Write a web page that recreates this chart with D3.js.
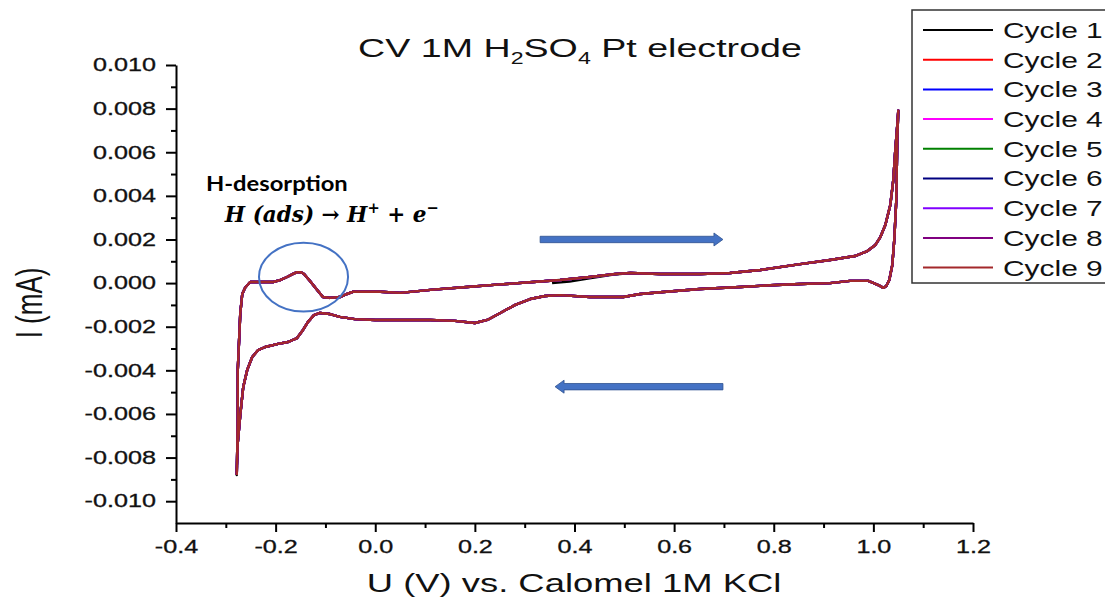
<!DOCTYPE html>
<html><head><meta charset="utf-8">
<script src="https://cdn.jsdelivr.net/npm/d3@7"></script>
<style>body{margin:0;background:#fff}svg{display:block}</style>
</head><body><svg id="chart" width="1105" height="603"></svg>
<script>
// ---------------- DATA ----------------
const cycleNames = ["Cycle 1","Cycle 2","Cycle 3","Cycle 4","Cycle 5","Cycle 6","Cycle 7","Cycle 8","Cycle 9"];
const cycleColors = ["#000000","#ff0000","#0000ff","#ff00ff","#008000","#000080","#8000ff","#800080","#a3292b"];

// one full voltammogram (anodic sweep, then cathodic sweep), potential in V, current in mA
const potential = [
 -0.278,-0.276,-0.276,-0.271,-0.267,-0.261,-0.251,-0.231,-0.205,-0.191,
 -0.177,-0.165,-0.157,-0.149,-0.143,-0.131,-0.117,-0.105,-0.091,-0.071,
 -0.057,-0.045,0.010,0.050,0.116,0.184,0.251,0.317,0.371,0.431,
 0.482,0.512,0.572,0.652,0.712,0.773,0.853,0.913,0.963,0.988,
 1.004,1.014,1.024,1.034,1.040,1.044,1.048,1.050,
 1.048,1.046,1.042,1.038,1.032,1.026,1.020,1.010,0.990,0.953,
 0.913,0.853,0.793,0.733,0.652,0.578,0.532,0.498,0.431,0.371,
 0.341,0.311,0.281,0.251,0.225,0.200,0.160,0.110,0.050,0.000,
 -0.041,-0.071,-0.091,-0.111,-0.123,-0.135,-0.145,-0.157,-0.175,-0.195,
 -0.221,-0.235,-0.247,-0.257,-0.265,-0.271,-0.276,-0.278,-0.278
];
const current = [
 -0.0088,-0.0063,-0.0040,-0.0014,-0.0005,-0.0002,0.00005,0.00005,0.00005,0.00014,
 0.00028,0.00042,0.0005,0.0005,0.00042,0.0001,-0.0003,-0.00064,-0.00068,-0.00064,
 -0.0005,-0.0004,-0.0004,-0.00045,-0.0003,-0.00018,-0.00006,0.00005,0.00014,0.00028,
 0.00042,0.00046,0.00042,0.00042,0.00046,0.0006,0.00087,0.00106,0.00124,0.00147,
 0.00175,0.00211,0.00266,0.00358,0.00473,0.0061,0.00724,0.0079,
 0.0066,0.0038,0.002,0.00083,0.00014,-0.00013,-0.00022,-0.00009,0.0001,0.0001,
 0.0,-0.00004,-0.0001,-0.00018,-0.00027,-0.00041,-0.0005,-0.00064,-0.00064,-0.00055,
 -0.00059,-0.00073,-0.001,-0.00137,-0.00169,-0.00183,-0.00173,-0.00169,-0.00169,-0.00169,
 -0.00165,-0.00155,-0.00142,-0.00137,-0.00147,-0.00178,-0.00215,-0.00252,-0.0027,-0.00279,
 -0.00293,-0.00307,-0.00339,-0.00398,-0.00476,-0.00605,-0.00733,-0.00857,-0.0088
];
// cycle 1 starts at open-circuit potential with a slightly lower current
const cycle1StartPotential = [0.355, 0.390, 0.430, 0.475];
const cycle1StartCurrent   = [0.0000, 0.00007, 0.00022, 0.00038];
const cycle1JoinIndex = 31;   // joins the common curve at 0.512 V
const cycle1EndIndex = 29;    // ends back near open-circuit potential

const xTicks = [-0.4,-0.2,0.0,0.2,0.4,0.6,0.8,1.0,1.2];
const xTickLabels = ["-0.4","-0.2","0.0","0.2","0.4","0.6","0.8","1.0","1.2"];
const xMinorTicks = [-0.3,-0.1,0.1,0.3,0.5,0.7,0.9,1.1];
const yTicks = [-0.010,-0.008,-0.006,-0.004,-0.002,0.000,0.002,0.004,0.006,0.008,0.010];
const yTickLabels = ["-0.010","-0.008","-0.006","-0.004","-0.002","0.000","0.002","0.004","0.006","0.008","0.010"];
const yMinorTicks = [-0.009,-0.007,-0.005,-0.003,-0.001,0.001,0.003,0.005,0.007,0.009];

// ---------------- CHART ----------------
const svg = d3.select("#chart");
const FONT = "'Liberation Sans', Arial, Helvetica, sans-serif";
const SX = 1.4; // horizontal stretch of the original picture's text

const x = d3.scaleLinear().domain([-0.4, 1.2]).range([176, 973]);
const y = d3.scaleLinear().domain([-0.011, 0.010]).range([523, 65]);

// build cycles
const basePts = potential.map((p,i)=>[p, current[i]]);
const cycles = cycleNames.map((name,i)=>{
  let pts;
  if (i === 0) {
    pts = cycle1StartPotential.map((p,j)=>[p, cycle1StartCurrent[j]])
      .concat(basePts.slice(cycle1JoinIndex))
      .concat(basePts.slice(0, cycle1EndIndex));
  } else pts = basePts;
  return {name, color: cycleColors[i], pts};
});

const line = d3.line().x(d=>x(d[0])).y(d=>y(d[1]));
const gLines = svg.append("g");
cycles.forEach(c=>{
  gLines.append("path").attr("d", line(c.pts)).attr("fill","none")
    .attr("stroke", c.color).attr("stroke-width", 2.4).attr("stroke-linejoin","round");
});

// axes
const gy = svg.append("g").attr("transform",`translate(${x(-0.4)},0)`)
  .call(d3.axisLeft(y).tickValues(yTicks).tickFormat((d,i)=>yTickLabels[i]).tickSize(10).tickPadding(10).tickSizeOuter(0));
const gyMinor = svg.append("g").attr("transform",`translate(${x(-0.4)},0)`)
  .call(d3.axisLeft(y).tickValues(yMinorTicks).tickFormat("").tickSize(5).tickSizeOuter(0));
const gx = svg.append("g").attr("transform",`translate(0,${y(-0.011)})`)
  .call(d3.axisBottom(x).tickValues(xTicks).tickFormat((d,i)=>xTickLabels[i]).tickSize(9).tickPadding(8).tickSizeOuter(0));
const gxMinor = svg.append("g").attr("transform",`translate(0,${y(-0.011)})`)
  .call(d3.axisBottom(x).tickValues(xMinorTicks).tickFormat("").tickSize(5).tickSizeOuter(0));
gyMinor.select(".domain").remove();
gxMinor.select(".domain").remove();
[gy, gx].forEach(g=>{
  g.attr("font-family", FONT).attr("font-size", 18);
  g.select(".domain").attr("stroke","#000").attr("stroke-width",2);
});
[gy, gx, gyMinor, gxMinor].forEach(g=>g.selectAll(".tick line").attr("stroke","#000").attr("stroke-width",2));
gy.selectAll(".tick text").attr("fill","#111").attr("stroke","#111").attr("stroke-width",0.3)
  .attr("x", -20/SX).attr("transform",`scale(${SX},1)`);
gx.selectAll(".tick text").attr("fill","#111").attr("stroke","#111").attr("stroke-width",0.3)
  .attr("transform",`scale(${SX},1)`);

// text helper: place text, stretch horizontally (fit to width if given)
function placeText(sel, x0, y0, width, sx) {
  const w = sel.node().getBBox().width;
  const s = width ? width / w : sx;
  sel.attr("x",0).attr("y",0).attr("transform",`translate(${x0},${y0}) scale(${s},1)`);
}

// title
const title = svg.append("text").attr("font-family",FONT).attr("font-size",26).attr("fill","#111").attr("text-anchor","middle");
title.append("tspan").text("CV 1M H");
title.append("tspan").text("2").attr("font-size",16).attr("dy",7);
title.append("tspan").text("SO").attr("dy",-7);
title.append("tspan").text("4").attr("font-size",16).attr("dy",7);
title.append("tspan").text(" Pt electrode").attr("dy",-7);
placeText(title, 580, 57, 444);

// axis titles
const xlab = svg.append("text").attr("font-family",FONT).attr("font-size",26).attr("fill","#111")
  .attr("text-anchor","middle").text("U (V) vs. Calomel 1M KCl");
placeText(xlab, 574, 592, null, SX);
svg.append("text").attr("font-family",FONT).attr("font-size",26).attr("fill","#111")
  .attr("text-anchor","middle").attr("dy","0.35em")
  .attr("transform",`translate(29,303) scale(${SX},1) rotate(-90)`).text("I (mA)");

// annotations
const ell = {cx: -0.144, cy: 0.000275, rx: 0.0894, ry: 0.00158};
svg.append("ellipse").attr("cx", x(ell.cx)).attr("cy", y(ell.cy))
  .attr("rx", x(ell.cx + ell.rx) - x(ell.cx)).attr("ry", y(ell.cy) - y(ell.cy + ell.ry))
  .attr("fill","none").attr("stroke","#4472c4").attr("stroke-width",2);

const hd = svg.append("text").attr("font-family","Lato, 'Open Sans', sans-serif").attr("font-weight","bold")
  .attr("font-size",21).attr("fill","#000").text("H-desorption");
placeText(hd, x(-0.34), y(0.0042), 142);

const eq = svg.append("text").attr("font-family","'DejaVu Serif','Liberation Serif',serif").attr("font-weight","bold")
  .attr("font-style","italic").attr("font-size",22).attr("fill","#000");
eq.append("tspan").text("H (ads) \u2192 H");
eq.append("tspan").text("+").attr("font-size",15).attr("dy",-9).attr("font-style","normal");
eq.append("tspan").text(" + e").attr("dy",9);
eq.append("tspan").text("\u2212").attr("font-size",15).attr("dy",-9).attr("font-style","normal");
placeText(eq, x(-0.302), y(0.0028), 215);

function arrow(x1, x2, yc) {
  const dir = Math.sign(x2 - x1), sh = 3.2, hh = 6.5, hl = 9;
  const xb = x2 - dir*hl;
  const pts = [[x1,yc-sh],[xb,yc-sh],[xb,yc-hh],[x2,yc],[xb,yc+hh],[xb,yc+sh],[x1,yc+sh]];
  svg.append("path").attr("d","M"+pts.map(p=>p.join(",")).join("L")+"Z")
    .attr("fill","#4472c4").attr("stroke","#2f528f").attr("stroke-width",0.8);
}
arrow(x(0.331), x(0.698), y(0.0020));
arrow(x(0.698), x(0.361), y(-0.00475));

// legend
const lg = svg.append("g");
lg.append("rect").attr("x",912).attr("y",10).attr("width",220).attr("height",273)
  .attr("fill","#fff").attr("stroke","#333").attr("stroke-width",1.5);
cycles.forEach((c,i)=>{
  const yy = 30 + i*29.7;
  lg.append("line").attr("x1",923).attr("x2",993).attr("y1",yy).attr("y2",yy)
    .attr("stroke",c.color).attr("stroke-width",2);
  const t = lg.append("text").attr("font-family",FONT).attr("font-size",22).attr("fill","#111")
    .attr("dy","0.36em").text(c.name);
  t.attr("x",0).attr("y",0).attr("transform",`translate(1003,${yy}) scale(1.36,1)`);
});
</script></body></html>
